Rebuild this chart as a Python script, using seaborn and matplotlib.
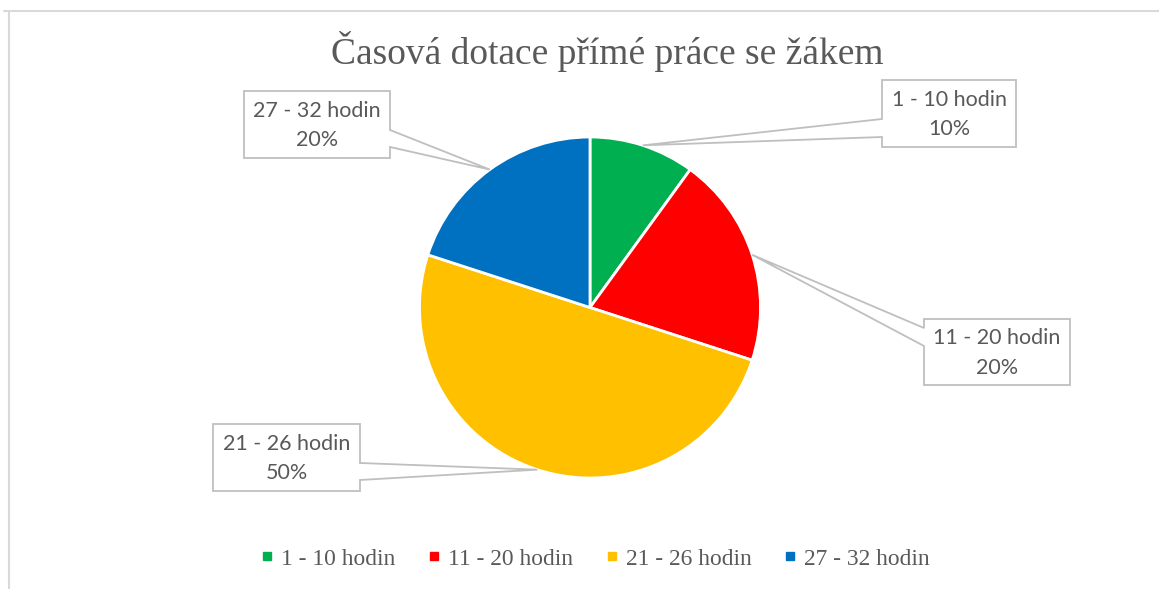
import numpy as np
import matplotlib
matplotlib.use("Agg")
import matplotlib.pyplot as plt
import seaborn as sns
from matplotlib.patches import Polygon
from matplotlib.lines import Line2D

# ---- data ----
categories = ["1 - 10 hodin", "11 - 20 hodin", "21 - 26 hodin", "27 - 32 hodin"]
values = [10, 20, 50, 20]
colors = ["#00B050", "#FF0000", "#FFC000", "#0070C0"]
title = "Časová dotace přímé práce se žákem"

sns.set_theme(style="white")
plt.rcParams['font.family'] = ['Lato', 'DejaVu Sans']

W, H = 1159, 589
fig = plt.figure(figsize=(W / 100, H / 100), dpi=100)
fig.patch.set_facecolor("white")


def ff(x, y):
    """pixel (top-down) -> figure fraction"""
    return (x / W, 1 - y / H)


# chart border (top and left edges visible)
border = "#D9D9D9"
fig.add_artist(Line2D([4 / W, 1.0], [1 - 10.5 / H] * 2, color=border, lw=1.5, transform=fig.transFigure))
fig.add_artist(Line2D([9 / W] * 2, [1 - 10.5 / H, 0.0], color=border, lw=1.5, transform=fig.transFigure))

# pie
cx, cy, r = 590, 307.5, 170.5
ax = fig.add_axes([(cx - r) / W, 1 - (cy + r) / H, 2 * r / W, 2 * r / H])
wedges, _ = ax.pie(values, colors=colors, startangle=90, counterclock=False, radius=1,
                   wedgeprops=dict(edgecolor="white", linewidth=2))
ax.set_xlim(-1, 1)
ax.set_ylim(-1, 1)
ax.axis("off")

# callout boxes (layout): box x0,y0,x1,y1, side of pointer, pointer base y's
boxes = [
    dict(box=(882, 80, 1016, 147), side="left", base=(119, 137)),
    dict(box=(924, 319, 1070, 385), side="left", base=(328, 346)),
    dict(box=(213, 424, 360, 491), side="right", base=(463, 480)),
    dict(box=(244, 91, 390, 158), side="right", base=(130, 147)),
]

total = sum(values)
for w, cat, val, spec in zip(wedges, categories, values, boxes):
    th = np.deg2rad((w.theta1 + w.theta2) / 2)
    tx, ty = ax.transData.transform((np.cos(th), np.sin(th)))
    tip_px = (tx, H - ty)
    x0, y0, x1, y1 = spec["box"]
    b0, b1 = spec["base"]
    if spec["side"] == "right":
        pts = [(x0, y0), (x1, y0), (x1, b0), tip_px, (x1, b1), (x1, y1), (x0, y1)]
    else:
        pts = [(x0, y0), (x1, y0), (x1, y1), (x0, y1), (x0, b1), tip_px, (x0, b0)]
    poly = Polygon([ff(*p) for p in pts], closed=True, facecolor="white", edgecolor="#BFBFBF",
                   lw=1.3, transform=fig.transFigure, zorder=5)
    fig.add_artist(poly)
    pct = round(val / total * 100)
    fig.text(*ff((x0 + x1) / 2, (y0 + y1) / 2 + 1), f"{cat}\n{pct}%", ha="center", va="center",
             fontsize=15.5, color="#595959", linespacing=1.6, zorder=6)

# title
fig.text(*ff(607.5, 64), title, ha="center", va="baseline", fontsize=27,
         color="#595959", family=["Liberation Serif", "DejaVu Serif"])

# legend
handles = [Line2D([], [], marker="s", linestyle="none", markersize=6, markerfacecolor=c,
                  markeredgecolor=c) for c in colors]
leg = fig.legend(handles, categories, loc="center", bbox_to_anchor=ff(596, 559), ncol=4,
                 frameon=False, prop=dict(family="Liberation Serif", size=16.9),
                 handlelength=0.4, handletextpad=0.4, columnspacing=1.45, borderpad=0)
for t in leg.get_texts():
    t.set_color("#595959")

fig.savefig("out.png", dpi=100, facecolor="white")
